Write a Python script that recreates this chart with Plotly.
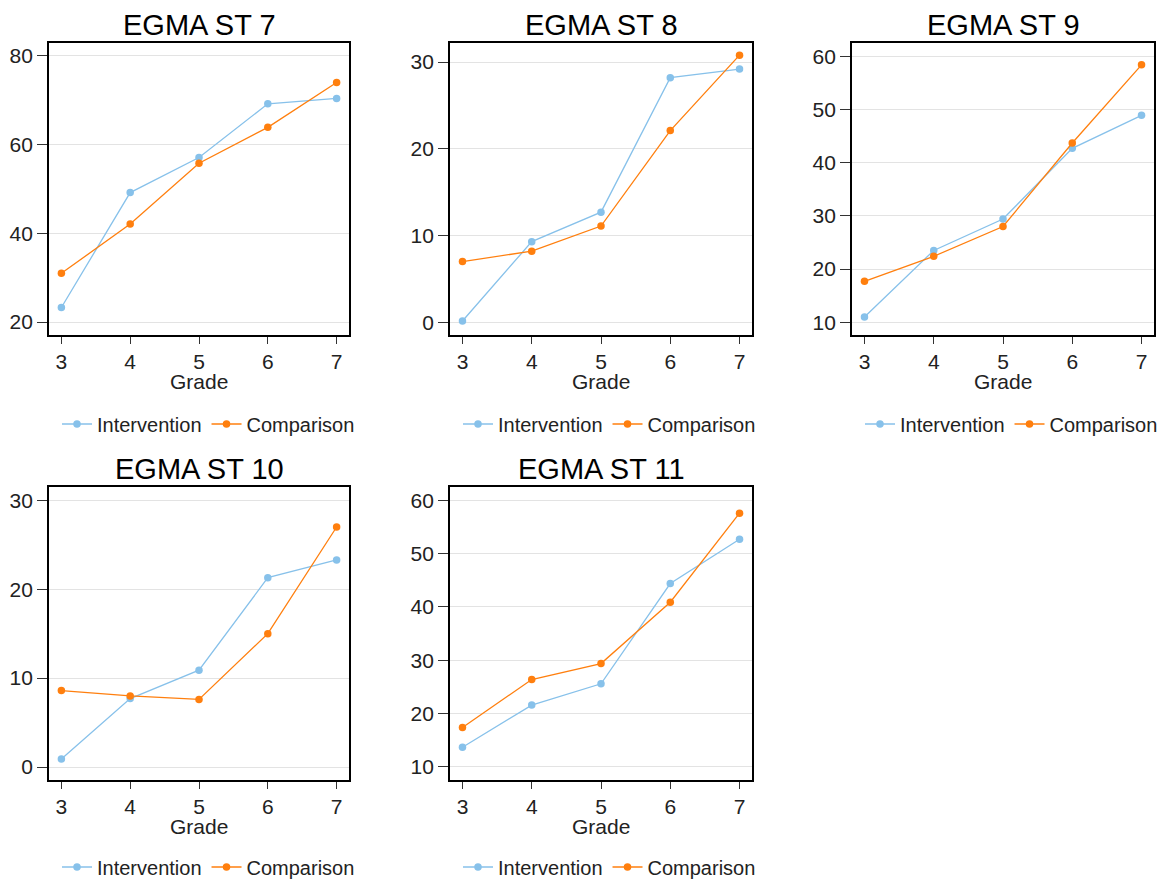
import plotly.graph_objects as go

grades = [3, 4, 5, 6, 7]
titles = ["EGMA ST 7", "EGMA ST 8", "EGMA ST 9", "EGMA ST 10", "EGMA ST 11"]

st7_intervention = [23.3, 49.2, 57.1, 69.2, 70.4]
st7_comparison = [31.0, 42.1, 55.8, 63.9, 74.0]
st8_intervention = [0.15, 9.3, 12.7, 28.2, 29.2]
st8_comparison = [7.0, 8.2, 11.1, 22.1, 30.8]
st9_intervention = [11.0, 23.5, 29.4, 42.7, 48.9]
st9_comparison = [17.7, 22.4, 28.0, 43.7, 58.4]
st10_intervention = [0.9, 7.7, 10.9, 21.3, 23.3]
st10_comparison = [8.6, 8.0, 7.6, 15.0, 27.0]
st11_intervention = [13.7, 21.6, 25.6, 44.4, 52.7]
st11_comparison = [17.4, 26.4, 29.4, 40.9, 57.6]

intervention = [st7_intervention, st8_intervention, st9_intervention, st10_intervention, st11_intervention]
comparison = [st7_comparison, st8_comparison, st9_comparison, st10_comparison, st11_comparison]

y_ticks = [[20, 40, 60, 80], [0, 10, 20, 30], [10, 20, 30, 40, 50, 60], [0, 10, 20, 30], [10, 20, 30, 40, 50, 60]]
y_ranges = [[17.1, 82.9], [-1.46, 32.2], [7.6, 62.5], [-1.46, 31.5], [7.56, 62.5]]

# the page body has an 8px margin; figure sized to fill the remaining viewport
OFF = 8
W, H = 1166 - OFF, 879 - OFF
# plot areas in screen pixels (x0, x1, y0, y1)
boxes = [(49, 349, 43, 335), (450, 752, 43, 335), (852, 1154, 43, 335),
         (49, 349, 487, 780), (450, 752, 487, 780)]


def px(x):
    return (x - OFF) / W


def py(y):
    return 1 - (y - OFF) / H


BLUE = "#87c1ea"
ORANGE = "#ff7f0e"
FONT = "Liberation Sans, Arial, sans-serif"

fig = go.Figure()
layout = dict(width=W, height=H, margin=dict(l=0, r=0, t=0, b=0, autoexpand=False),
              paper_bgcolor="white", plot_bgcolor="white",
              font=dict(family=FONT, size=21, color="#222"),
              annotations=[], showlegend=True)

for i in range(5):
    x0, x1, y0, y1 = boxes[i]
    xa = "x" if i == 0 else f"x{i+1}"
    ya = "y" if i == 0 else f"y{i+1}"
    lg = "legend" if i == 0 else f"legend{i+1}"
    fig.add_trace(go.Scatter(x=grades, y=intervention[i], mode="lines+markers", name="Intervention",
                             line=dict(color=BLUE, width=1.3), marker=dict(color=BLUE, size=7.5),
                             xaxis=xa, yaxis=ya, legend=lg))
    fig.add_trace(go.Scatter(x=grades, y=comparison[i], mode="lines+markers", name="Comparison",
                             line=dict(color=ORANGE, width=1.3), marker=dict(color=ORANGE, size=7.5),
                             xaxis=xa, yaxis=ya, legend=lg))
    xkey = "xaxis" if i == 0 else f"xaxis{i+1}"
    ykey = "yaxis" if i == 0 else f"yaxis{i+1}"
    layout[xkey] = dict(domain=[px(x0), px(x1)], anchor=ya, range=[2.82, 7.18], automargin=False,
                        tickvals=grades, ticks="outside", ticklen=7, tickwidth=1.3, tickcolor="#333",
                        ticklabelstandoff=0, tickfont=dict(size=21),
                        showline=True, linecolor="black", linewidth=1.8, mirror=True,
                        showgrid=False, zeroline=False)
    layout[ykey] = dict(domain=[py(y1), py(y0)], anchor=xa, range=y_ranges[i], automargin=False,
                        tickvals=y_ticks[i], ticks="outside", ticklen=10, tickwidth=1.3, tickcolor="#333",
                        tickfont=dict(size=21),
                        showline=True, linecolor="black", linewidth=1.8, mirror=True,
                        showgrid=True, gridcolor="#e3e3e3", gridwidth=1, zeroline=False)
    ly = 424 if i < 3 else 867
    layout[lg] = dict(orientation="h", x=px(x0 + 8), xanchor="left", y=py(ly), yanchor="middle",
                      font=dict(size=20, color="#222"), bgcolor="rgba(0,0,0,0)", itemwidth=30)
    # panel title
    layout["annotations"].append(dict(text=titles[i], x=px((x0 + x1) / 2), y=py(y0 - 18),
                                      xref="paper", yref="paper", showarrow=False,
                                      xanchor="center", yanchor="middle", borderpad=0,
                                      font=dict(size=29, color="black", family=FONT)))
    # x-axis title
    layout["annotations"].append(dict(text="Grade", x=px((x0 + x1) / 2), y=py(y1 + 46),
                                      xref="paper", yref="paper", showarrow=False,
                                      xanchor="center", yanchor="middle", borderpad=0,
                                      font=dict(size=21, color="#222", family=FONT)))

fig.update_layout(**layout)
fig.write_html("out.html")
